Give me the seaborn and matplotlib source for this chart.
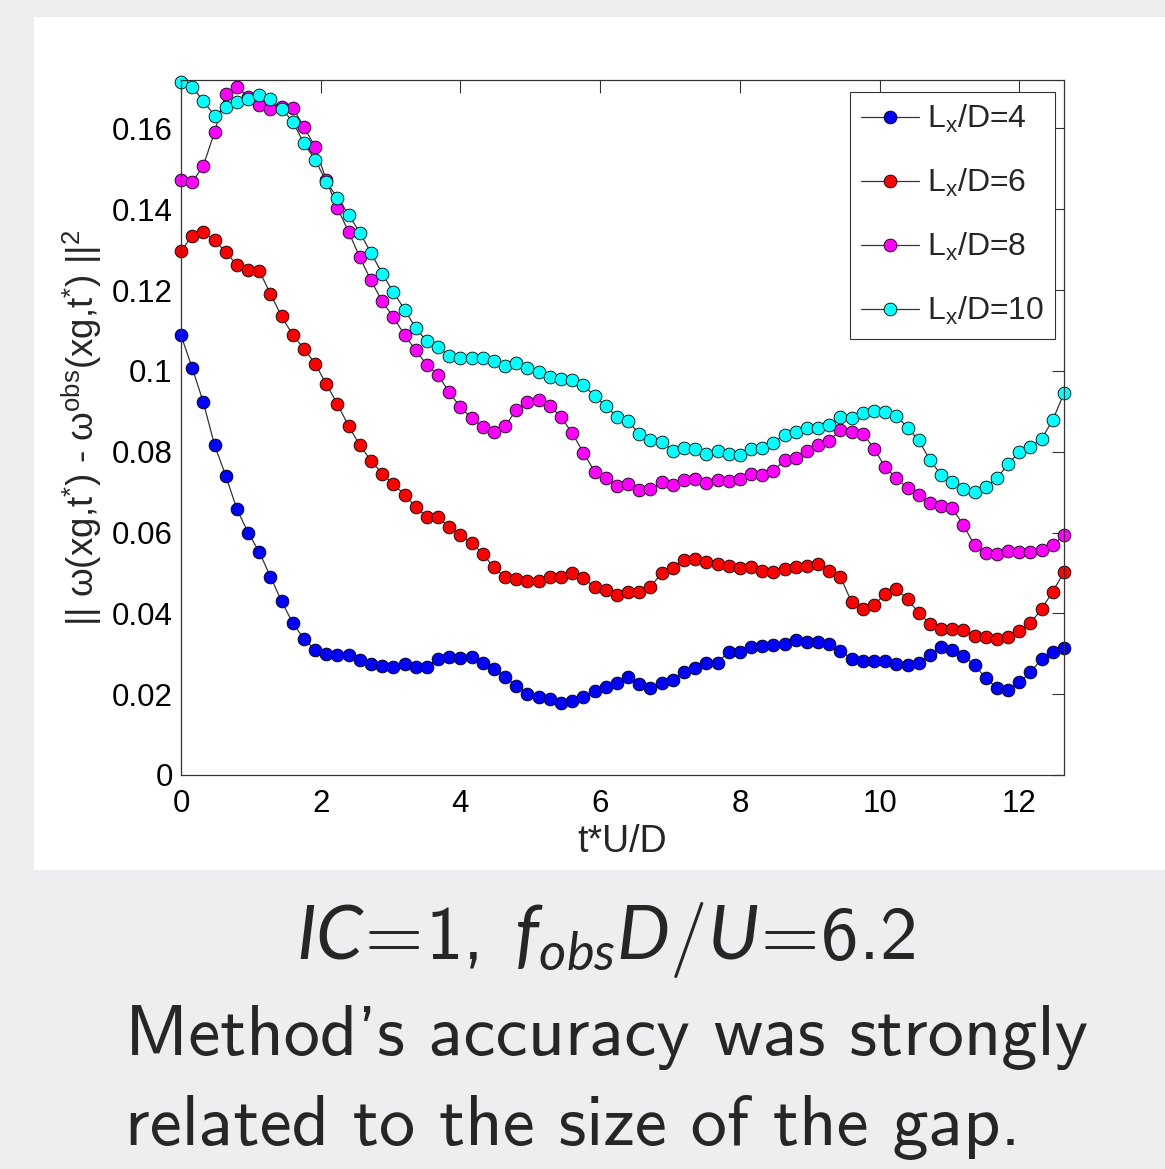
import numpy as np
import pandas as pd
import matplotlib
matplotlib.use("Agg")
import matplotlib.pyplot as plt
from matplotlib.patches import Rectangle
import seaborn as sns

# sampling of the gap: one observation every 0.16 t*U/D
dt = 0.16
n_pts = 80
t = np.arange(n_pts) * dt

err_L4 = [0.1088, 0.1008, 0.0922, 0.0817, 0.0741, 0.0658, 0.0600, 0.0552, 0.0491, 0.0430,
          0.0376, 0.0337, 0.0310, 0.0299, 0.0297, 0.0296, 0.0284, 0.0275, 0.0270, 0.0268,
          0.0274, 0.0268, 0.0268, 0.0287, 0.0291, 0.0289, 0.0291, 0.0278, 0.0263, 0.0242,
          0.0221, 0.0200, 0.0192, 0.0187, 0.0178, 0.0184, 0.0192, 0.0208, 0.0219, 0.0227,
          0.0242, 0.0225, 0.0215, 0.0227, 0.0235, 0.0254, 0.0264, 0.0277, 0.0278, 0.0305,
          0.0304, 0.0316, 0.0320, 0.0322, 0.0325, 0.0334, 0.0330, 0.0330, 0.0324, 0.0307,
          0.0288, 0.0281, 0.0283, 0.0281, 0.0274, 0.0273, 0.0276, 0.0297, 0.0316, 0.0310,
          0.0295, 0.0272, 0.0240, 0.0215, 0.0210, 0.0230, 0.0254, 0.0288, 0.0305, 0.0314]

err_L6 = [0.1296, 0.1335, 0.1344, 0.1323, 0.1295, 0.1262, 0.1251, 0.1248, 0.1191, 0.1135,
          0.1089, 0.1055, 0.1018, 0.0967, 0.0918, 0.0863, 0.0816, 0.0778, 0.0746, 0.0720,
          0.0694, 0.0663, 0.0639, 0.0638, 0.0614, 0.0593, 0.0575, 0.0547, 0.0514, 0.0489,
          0.0485, 0.0479, 0.0480, 0.0490, 0.0490, 0.0499, 0.0487, 0.0466, 0.0457, 0.0446,
          0.0454, 0.0452, 0.0466, 0.0499, 0.0512, 0.0532, 0.0535, 0.0528, 0.0522, 0.0518,
          0.0512, 0.0515, 0.0505, 0.0502, 0.0511, 0.0516, 0.0518, 0.0522, 0.0505, 0.0490,
          0.0428, 0.0410, 0.0421, 0.0448, 0.0461, 0.0435, 0.0402, 0.0374, 0.0362, 0.0362,
          0.0360, 0.0344, 0.0341, 0.0336, 0.0342, 0.0356, 0.0376, 0.0411, 0.0454, 0.0502]

err_L8 = [0.1472, 0.1467, 0.1508, 0.1591, 0.1686, 0.1703, 0.1678, 0.1657, 0.1647, 0.1654,
          0.1651, 0.1604, 0.1554, 0.1472, 0.1403, 0.1344, 0.1281, 0.1224, 0.1172, 0.1133,
          0.1089, 0.1051, 0.1015, 0.0990, 0.0947, 0.0910, 0.0883, 0.0861, 0.0850, 0.0863,
          0.0904, 0.0922, 0.0929, 0.0914, 0.0886, 0.0846, 0.0798, 0.0751, 0.0735, 0.0714,
          0.0720, 0.0706, 0.0707, 0.0724, 0.0718, 0.0731, 0.0732, 0.0722, 0.0731, 0.0728,
          0.0732, 0.0746, 0.0743, 0.0753, 0.0779, 0.0784, 0.0802, 0.0816, 0.0827, 0.0854,
          0.0848, 0.0845, 0.0808, 0.0762, 0.0735, 0.0710, 0.0692, 0.0673, 0.0666, 0.0660,
          0.0619, 0.0568, 0.0549, 0.0546, 0.0555, 0.0553, 0.0551, 0.0557, 0.0568, 0.0594]

err_L10 = [0.1716, 0.1703, 0.1668, 0.1632, 0.1653, 0.1666, 0.1672, 0.1683, 0.1672, 0.1649,
           0.1617, 0.1563, 0.1523, 0.1468, 0.1428, 0.1387, 0.1342, 0.1292, 0.1241, 0.1195,
           0.1152, 0.1106, 0.1073, 0.1058, 0.1038, 0.1032, 0.1032, 0.1032, 0.1024, 0.1011,
           0.1020, 0.1007, 0.0997, 0.0985, 0.0980, 0.0978, 0.0966, 0.0937, 0.0914, 0.0886,
           0.0875, 0.0845, 0.0828, 0.0823, 0.0803, 0.0809, 0.0807, 0.0794, 0.0801, 0.0795,
           0.0791, 0.0808, 0.0809, 0.0822, 0.0842, 0.0849, 0.0860, 0.0858, 0.0865, 0.0885,
           0.0883, 0.0897, 0.0902, 0.0898, 0.0889, 0.0860, 0.0828, 0.0780, 0.0743, 0.0724,
           0.0707, 0.0700, 0.0713, 0.0734, 0.0770, 0.0799, 0.0812, 0.0832, 0.0879, 0.0945]

gap_sizes = ["4", "6", "8", "10"]
face_colors = ["#0000ff", "#ff0000", "#ff00ff", "#00ffff"]
xticks = [0, 2, 4, 6, 8, 10, 12]
yticks = [0, 0.02, 0.04, 0.06, 0.08, 0.1, 0.12, 0.14, 0.16]
ytick_labels = ["0", "0.02", "0.04", "0.06", "0.08", "0.1", "0.12", "0.14", "0.16"]

df = pd.DataFrame({"t": t, "4": err_L4, "6": err_L6, "8": err_L8, "10": err_L10})

sns.set_style("white")
plt.rcParams["font.family"] = ["Liberation Sans", "DejaVu Sans"]
plt.rcParams["mathtext.fontset"] = "custom"
plt.rcParams["mathtext.rm"] = "cmss10"
plt.rcParams["mathtext.it"] = "Lato:italic"
plt.rcParams["mathtext.sf"] = "cmss10"

W, H = 1165, 1169
fig = plt.figure(figsize=(W / 100, H / 100), dpi=100, facecolor="#eeeef0")
# white slide panel behind the chart
fig.patches.append(Rectangle((34 / W, 1 - 870 / H), 1131 / W, 853 / H,
                             transform=fig.transFigure, facecolor="white",
                             edgecolor="none", zorder=-10))
ax = fig.add_axes([181 / W, 1 - 775 / H, 883 / W, 695 / H])
ax.set_facecolor("white")
ax.set_zorder(2)

for g, fc in zip(gap_sizes, face_colors):
    sns.lineplot(ax=ax, data=df, x="t", y=g, color="0.2", linewidth=0.9,
                 marker="o", markersize=9.2, markerfacecolor=fc,
                 markeredgecolor="black", markeredgewidth=0.6,
                 label=r"L$_{\mathregular{x}}$/D=" + g, clip_on=False)

ax.set_xlim(0, 12.64)
ax.set_ylim(0, 0.172)
ax.set_xticks(xticks)
ax.set_yticks(yticks, labels=ytick_labels)
ax.tick_params(direction="in", length=9, width=0.8, top=True, right=True,
               labelsize=22.5, color="0.2", labelcolor="black")
ax.tick_params(axis="x", pad=10)
ax.tick_params(axis="y", pad=6)
for s in ax.spines.values():
    s.set_color("0.2")
    s.set_linewidth(0.9)

ax.set_xlabel("t*U/D", fontsize=27)
ax.xaxis.set_label_coords(0.5, (775 - 824) / 695)
ax.set_ylabel(r"|| ω(xg,t$^{\mathregular{*}}$) - ω$^{\mathregular{obs}}$(xg,t$^{\mathregular{*}}$) ||$^{\mathregular{2}}$",
              fontsize=26.5)
ax.yaxis.set_label_coords((104 - 181) / 883, 0.5)

leg = ax.legend(loc="upper right", bbox_to_anchor=((1055 - 181) / 883, (775 - 92) / 695),
                borderaxespad=0, fontsize=23, frameon=True, fancybox=False,
                framealpha=1, edgecolor="0.2", handlelength=1.8, handletextpad=0.25,
                labelspacing=1.0, borderpad=0.35)
leg.get_frame().set_linewidth(0.8)

fig.text(605 / W, 1 - 940 / H, r"$IC\!=\!1,\ f_{obs}D/U\!=\!6.2$",
         ha="center", va="center", fontsize=54)
fig.text(125 / W, 1 - 1055 / H, "Method's accuracy was strongly",
         family="cmss10", fontsize=52, va="baseline", ha="left")
fig.text(125 / W, 1 - 1145 / H, "related to the size of the gap.",
         family="cmss10", fontsize=52, va="baseline", ha="left")

fig.savefig("out.png", dpi=100, facecolor=fig.get_facecolor())
